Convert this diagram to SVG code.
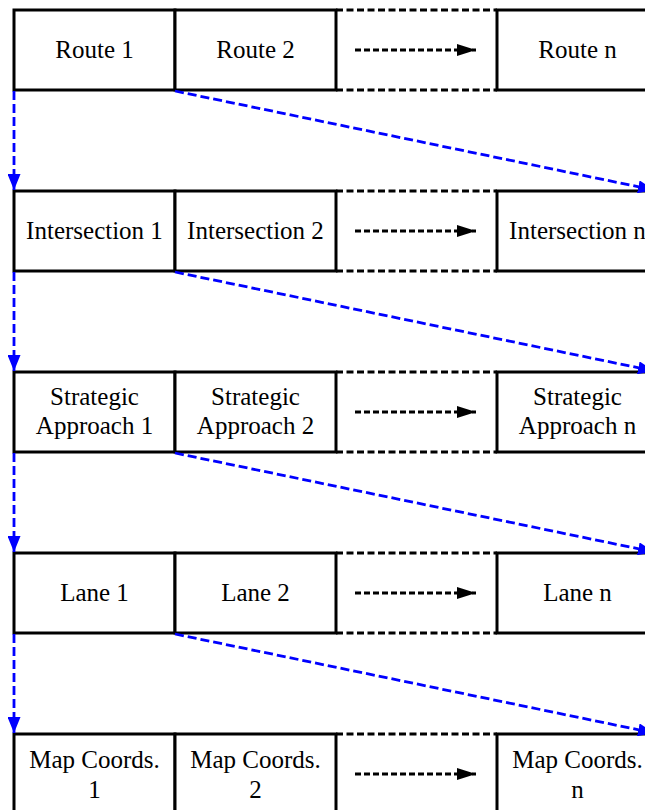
<svg xmlns="http://www.w3.org/2000/svg" width="645" height="810" viewBox="0 0 645 810">
  <style>
    .box { fill: #ffffff; stroke: #000000; stroke-width: 3; }
    .gap { fill: none; stroke: #000000; stroke-width: 3; stroke-dasharray: 7 3.5; }
    .seq { fill: none; stroke: #000000; stroke-width: 3; stroke-dasharray: 6 3; }
    .link { fill: none; stroke: #0000ff; stroke-width: 2.8; stroke-dasharray: 9 4; }
    text { font-family: 'Times New Roman', Times, 'Liberation Serif', Tinos, 'Noto Serif', 'DejaVu Serif', FreeSerif, serif; font-size: 25px; fill: #000000; text-anchor: middle; }
  </style>
  <defs>
    <marker id="blackHead" markerUnits="userSpaceOnUse" markerWidth="20" markerHeight="12" refX="19" refY="6" orient="auto">
      <polygon points="0,0 19,6 0,12" fill="#000000"/>
    </marker>
    <marker id="blueHead" markerUnits="userSpaceOnUse" markerWidth="16" markerHeight="13" refX="16" refY="6.5" orient="auto">
      <polygon points="0,0 16,6.5 0,13" fill="#0000ff"/>
    </marker>
  </defs>

  <rect width="645" height="810" fill="#ffffff"/>

  <!-- Row 1: routes -->
  <g id="route-1"><rect class="box" x="14" y="10" width="161" height="80"/><text x="94.5" y="58">Route 1</text></g>
  <g id="route-2"><rect class="box" x="175" y="10" width="161" height="80"/><text x="255.5" y="58">Route 2</text></g>
  <g id="route-gap"><path class="gap" d="M336,10 H497 M336,90 H497"/><line class="seq" x1="355" y1="50" x2="476" y2="50" marker-end="url(#blackHead)"/></g>
  <g id="route-n"><rect class="box" x="497" y="10" width="161" height="80"/><text x="577.5" y="58">Route n</text></g>

  <!-- Row 2: intersections -->
  <g id="intersection-1"><rect class="box" x="14" y="191" width="161" height="80"/><text x="94.5" y="239">Intersection 1</text></g>
  <g id="intersection-2"><rect class="box" x="175" y="191" width="161" height="80"/><text x="255.5" y="239">Intersection 2</text></g>
  <g id="intersection-gap"><path class="gap" d="M336,191 H497 M336,271 H497"/><line class="seq" x1="355" y1="231" x2="476" y2="231" marker-end="url(#blackHead)"/></g>
  <g id="intersection-n"><rect class="box" x="497" y="191" width="161" height="80"/><text x="577.5" y="239">Intersection n</text></g>

  <!-- Row 3: strategic approaches -->
  <g id="approach-1"><rect class="box" x="14" y="372" width="161" height="80"/><text x="94.5" y="405">Strategic</text><text x="94.5" y="434">Approach 1</text></g>
  <g id="approach-2"><rect class="box" x="175" y="372" width="161" height="80"/><text x="255.5" y="405">Strategic</text><text x="255.5" y="434">Approach 2</text></g>
  <g id="approach-gap"><path class="gap" d="M336,372 H497 M336,452 H497"/><line class="seq" x1="355" y1="412" x2="476" y2="412" marker-end="url(#blackHead)"/></g>
  <g id="approach-n"><rect class="box" x="497" y="372" width="161" height="80"/><text x="577.5" y="405">Strategic</text><text x="577.5" y="434">Approach n</text></g>

  <!-- Row 4: lanes -->
  <g id="lane-1"><rect class="box" x="14" y="553" width="161" height="80"/><text x="94.5" y="601">Lane 1</text></g>
  <g id="lane-2"><rect class="box" x="175" y="553" width="161" height="80"/><text x="255.5" y="601">Lane 2</text></g>
  <g id="lane-gap"><path class="gap" d="M336,553 H497 M336,633 H497"/><line class="seq" x1="355" y1="593" x2="476" y2="593" marker-end="url(#blackHead)"/></g>
  <g id="lane-n"><rect class="box" x="497" y="553" width="161" height="80"/><text x="577.5" y="601">Lane n</text></g>

  <!-- Row 5: map coordinates -->
  <g id="coords-1"><rect class="box" x="14" y="734" width="161" height="80"/><text x="94.5" y="768">Map Coords.</text><text x="94.5" y="798">1</text></g>
  <g id="coords-2"><rect class="box" x="175" y="734" width="161" height="80"/><text x="255.5" y="768">Map Coords.</text><text x="255.5" y="798">2</text></g>
  <g id="coords-gap"><path class="gap" d="M336,734 H497 M336,814 H497"/><line class="seq" x1="355" y1="774" x2="476" y2="774" marker-end="url(#blackHead)"/></g>
  <g id="coords-n"><rect class="box" x="497" y="734" width="161" height="80"/><text x="577.5" y="768">Map Coords.</text><text x="577.5" y="798">n</text></g>

  <!-- Connectors between levels -->
  <g id="connectors">
    <line class="link" x1="14" y1="91" x2="14" y2="190" marker-end="url(#blueHead)"/>
    <line class="link" x1="175" y1="91" x2="654" y2="190" marker-end="url(#blueHead)"/>
    <line class="link" x1="14" y1="272" x2="14" y2="371" marker-end="url(#blueHead)"/>
    <line class="link" x1="175" y1="272" x2="654" y2="371" marker-end="url(#blueHead)"/>
    <line class="link" x1="14" y1="453" x2="14" y2="552" marker-end="url(#blueHead)"/>
    <line class="link" x1="175" y1="453" x2="654" y2="552" marker-end="url(#blueHead)"/>
    <line class="link" x1="14" y1="634" x2="14" y2="733" marker-end="url(#blueHead)"/>
    <line class="link" x1="175" y1="634" x2="654" y2="733" marker-end="url(#blueHead)"/>
  </g>
</svg>
